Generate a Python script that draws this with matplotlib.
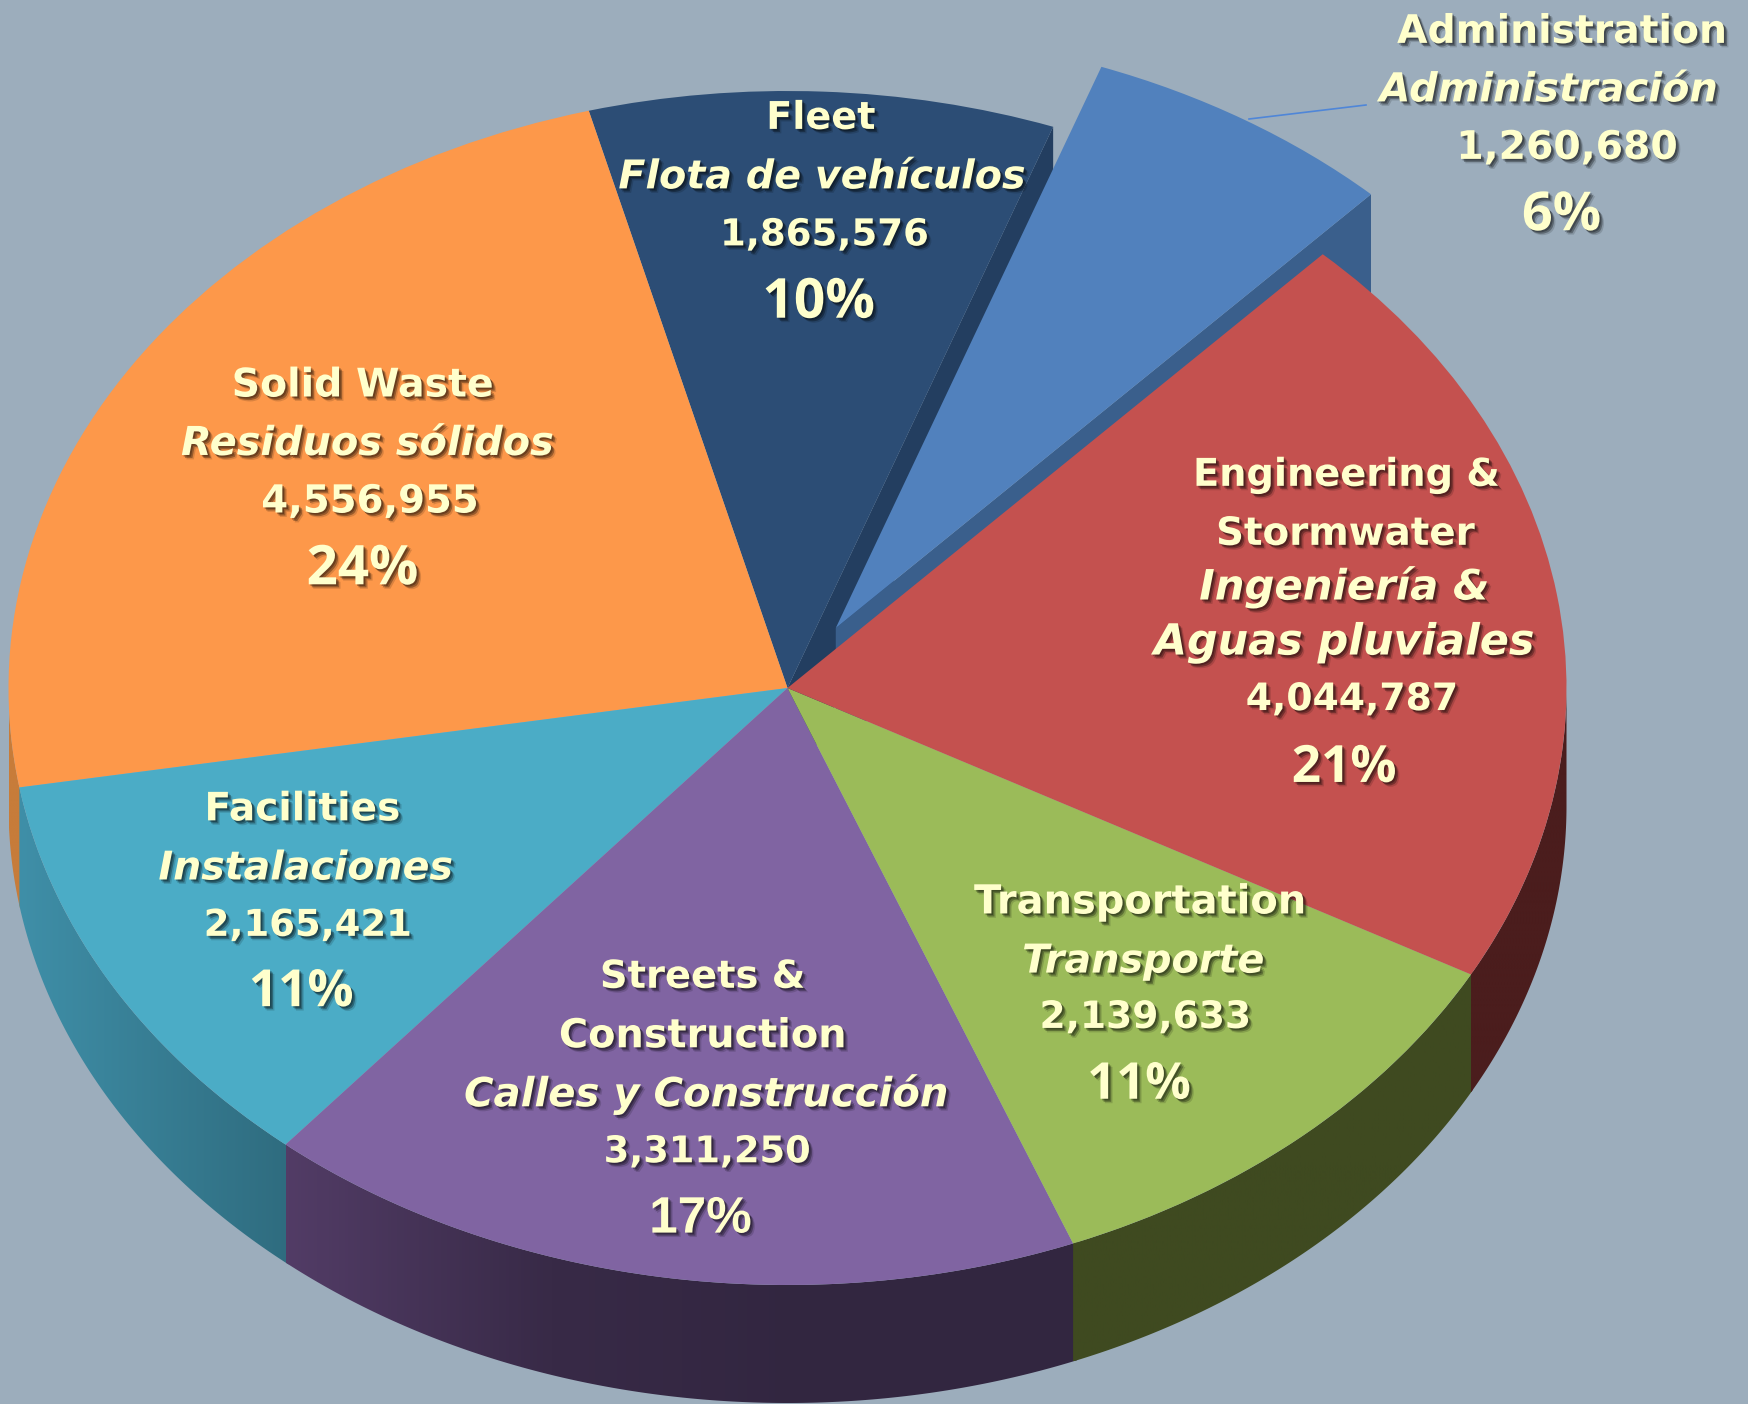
import numpy as np
import matplotlib
matplotlib.use('Agg')
import matplotlib.pyplot as plt
import matplotlib.patheffects as pe
from matplotlib.colors import LinearSegmentedColormap
from matplotlib.patches import Polygon

# budget by division, counterclockwise from the exploded slice
names = ['Administration', 'Fleet', 'Solid Waste', 'Facilities', 'Streets & Construction', 'Transportation', 'Engineering & Stormwater']
values = [1260680, 1865576, 4556955, 2165421, 3311250, 2139633, 4044787]
top_colors = ['#5181BD', '#2C4D75', '#FD984A', '#4BACC6', '#8064A2', '#9BBB59', '#C4514F']
cut_colors = ['#3A5F8C', '#233E60']
wall_colors = [None, None, ['#C77C3A', '#C77C3A'], ['#3F8FA8', '#2F6C7F'],
               ['#523C66', '#382A47', '#322640', '#322640'], ['#3F4A20', '#3F4A20'], ['#4B1D1D', '#4B1D1D']]

BG = '#9CADBC'
TXT = '#FFFFCC'
W, H = 1749, 1404
CX, CY, RX, RY = 787.5, 688, 779, 597
DEPTH = 118 / RY
START = 46.6
EXPLODE = 0.118
SCALE = 1749 / 1568

# text, centre x, centre y, width (in the 1568 wide preview), style
labels = [
    ('Administration', 1400, 25, 296, 'n'), ('Administración', 1388, 77, 303, 'i'), ('1,260,680', 1405, 129, 199, 'n'), ('6%', 1400, 188, 71, 'p'),
    ('Fleet', 736, 103, 98, 'n'), ('Flota de vehículos', 737, 155, 365, 'i'), ('1,865,576', 739, 207, 188, 'n'), ('10%', 734, 266, 101, 'p'),
    ('Solid Waste', 325, 342, 235, 'n'), ('Residuos sólidos', 329, 394, 334, 'i'), ('4,556,955', 332, 446, 196, 'n'), ('24%', 325, 505, 100, 'p'),
    ('Engineering &', 1207, 423, 275, 'n'), ('Stormwater', 1206, 475, 232, 'n'), ('Ingeniería &', 1205, 522, 260, 'i'),
    ('Aguas pluviales', 1205, 572, 341, 'i'), ('4,044,787', 1212, 624, 191, 'n'), ('21%', 1205, 684, 94, 'p'),
    ('Transportation', 1022, 805, 298, 'n'), ('Transporte', 1025, 858, 217, 'i'), ('2,139,633', 1027, 909, 190, 'n'), ('11%', 1021, 968, 93, 'p'),
    ('Streets &', 630, 873, 184, 'n'), ('Construction', 630, 925, 258, 'n'), ('Calles y Construcción', 633, 977, 434, 'i'),
    ('3,311,250', 634, 1029, 186, 'n'), ('17%', 628, 1088, 92, 'p'),
    ('Facilities', 271, 722, 176, 'n'), ('Instalaciones', 274, 775, 264, 'i'), ('2,165,421', 276, 826, 187, 'n'), ('11%', 270, 885, 94, 'p'),
]
families = ['DejaVu Sans', 'Noto Sans', 'Open Sans', 'Roboto', 'Liberation Sans']
target_size = {'n': 29.0, 'i': 29.0, 'p': 37.0}


def ell(theta, dx=0.0, dy=0.0):
    t = np.radians(theta)
    return np.cos(t) + dx, np.sin(t) + dy


fig = plt.figure(figsize=(W / 100, H / 100), dpi=100, facecolor=BG)
ax = fig.add_axes([0, 0, 1, 1])
ax.set_facecolor(BG)

angles = START + np.concatenate([[0], np.cumsum(values)]) / np.sum(values) * 360

xlim = (-CX / RX, (W - CX) / RX)
ylim = (-(H - CY) / RY, CY / RY)

# cut face of fleet, seen because administration is pulled out
x1, y1 = ell(angles[1])
ax.fill([0, x1, x1, 0], [0, y1, y1 - DEPTH, -DEPTH], color=cut_colors[1], lw=0, zorder=1)

# cut face of administration
mid = np.radians((angles[0] + angles[1]) / 2)
ox, oy = EXPLODE * np.cos(mid), EXPLODE * np.sin(mid)
x0, y0 = ell(angles[0], ox, oy)
ax.fill([ox, x0, x0, ox], [oy, y0, y0 - DEPTH, oy - DEPTH], color=cut_colors[0], lw=0, zorder=2)

# front walls, gradient images clipped to the rim
for i, stops in enumerate(wall_colors):
    if stops is None:
        continue
    # small overlap so no seam of background shows between two walls
    t1, t2 = max(angles[i], 180), min(angles[i + 1] + 0.3, 360)
    th = np.linspace(t1, t2, 200)
    xs, ys = ell(th)
    pts = np.column_stack([np.r_[xs, xs[::-1]], np.r_[ys, ys[::-1] - DEPTH]])
    clip = Polygon(pts, transform=ax.transData, fc='none', ec='none')
    cmap = LinearSegmentedColormap.from_list('wall%d' % i, stops)
    im = ax.imshow(np.linspace(0, 1, 256).reshape(1, -1), cmap=cmap, aspect='auto',
                   extent=(xs.min(), xs.max(), pts[:, 1].min(), pts[:, 1].max()), zorder=3)
    ax.add_patch(clip)
    im.set_clip_path(clip)

explode = [EXPLODE] + [0] * (len(values) - 1)
ax.pie(values, colors=top_colors, startangle=START, counterclock=True, explode=explode,
       wedgeprops={'linewidth': 0, 'zorder': 4}, normalize=True)
ax.set_aspect('auto')
ax.set_xlim(xlim)
ax.set_ylim(ylim)
ax.axis('off')

# leader line of the administration label
ax.plot([1249 / W, 1366 / W], [1 - 119 / H, 1 - 105 / H], color='#4F86D8', lw=1.2,
        transform=ax.transAxes, zorder=5)

renderer = fig.canvas.get_renderer()
shadow = [pe.SimplePatchShadow(offset=(3.2, -3.2), shadow_rgbFace='k', alpha=0.14),
          pe.SimplePatchShadow(offset=(2.2, -2.2), shadow_rgbFace='k', alpha=0.3),
          pe.SimplePatchShadow(offset=(1.2, -1.2), shadow_rgbFace='k', alpha=0.3),
          pe.Normal()]

for s, px, py, w, kind in labels:
    want = w * SCALE
    best = None
    for fam in families:
        t = fig.text(0, 0, s, fontsize=20, family=fam, weight='bold', style='italic' if kind == 'i' else 'normal')
        got = t.get_window_extent(renderer).width
        t.remove()
        size = 20 * want / got
        if best is None or abs(size - target_size[kind]) < abs(best[1] - target_size[kind]):
            best = (fam, size)
    fig.text(px * SCALE / W, 1 - py * SCALE / H, s, fontsize=best[1], family=best[0], weight='bold',
             style='italic' if kind == 'i' else 'normal', color=TXT, ha='center', va='center_baseline',
             path_effects=shadow, zorder=10)

fig.savefig('out.png', dpi=100, facecolor=BG)
